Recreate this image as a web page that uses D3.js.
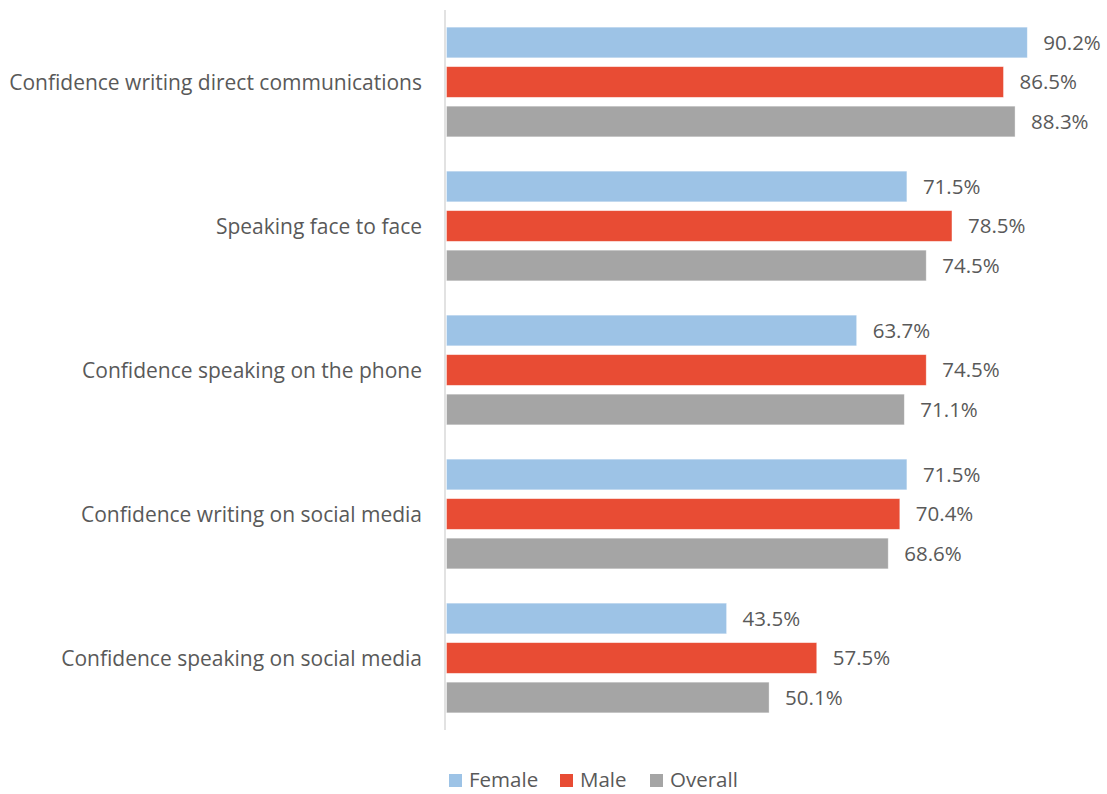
<!DOCTYPE html>
<html><head><meta charset="utf-8">
<script src="https://cdn.jsdelivr.net/npm/d3@7"></script>
<style>body{margin:0;background:#fff}svg{display:block}text{font-family:"Open Sans",sans-serif;fill:#595959}</style>
</head><body><svg id="c" width="1107" height="794"></svg>
<script>
const categories = ["Confidence writing direct communications","Speaking face to face","Confidence speaking on the phone","Confidence writing on social media","Confidence speaking on social media"];
const seriesNames = ["Female","Male","Overall"];
const female = [90.2,71.5,63.7,71.5,43.5];
const male = [86.5,78.5,74.5,70.4,57.5];
const overall = [88.3,74.5,71.1,68.6,50.1];
const colors = ["#9DC3E6","#E84C34","#A5A5A5"];

const svg = d3.select("#c");
const values = [female, male, overall];
const axisX = 446.5;
const x = d3.scaleLinear().domain([0,90.2]).range([axisX, 1027.3]);
const y0 = d3.scaleBand().domain(categories).range([10,730]);
const y1 = d3.scaleBand().domain(seriesNames).range([0,y0.bandwidth()]).paddingInner(0.223).paddingOuter(0.434);

const g = svg.append("g");
categories.forEach((c,ci)=>{
  const grp = g.append("g").attr("transform",`translate(0,${y0(c)})`);
  seriesNames.forEach((s,si)=>{
    const v = values[si][ci];
    grp.append("rect").attr("x",x(0)).attr("y",y1(s)).attr("width",x(v)-x(0)).attr("height",y1.bandwidth())
      .attr("fill",colors[si]).attr("stroke","#fff").attr("stroke-opacity",0.5).attr("stroke-width",0.75);
    grp.append("text").attr("x",x(v)+16).attr("y",y1(s)+y1.bandwidth()/2).attr("dy","0.36em")
      .attr("font-size",20.5).text(v.toFixed(1)+"%");
  });
  grp.append("text").attr("x",422).attr("y",y0.bandwidth()/2).attr("dy","0.36em").attr("text-anchor","end")
    .attr("font-size",21).text(c);
});

svg.append("line").attr("x1",445).attr("x2",445).attr("y1",10).attr("y2",730).attr("stroke","#D9D9D9").attr("stroke-width",1.5);

const legX = [449,560,650];
seriesNames.forEach((s,i)=>{
  svg.append("rect").attr("x",legX[i]).attr("y",774).attr("width",13).attr("height",13).attr("fill",colors[i]);
  svg.append("text").attr("x",legX[i]+20).attr("y",779.5).attr("dy","0.36em").attr("font-size",20.5).text(s);
});
</script></body></html>
